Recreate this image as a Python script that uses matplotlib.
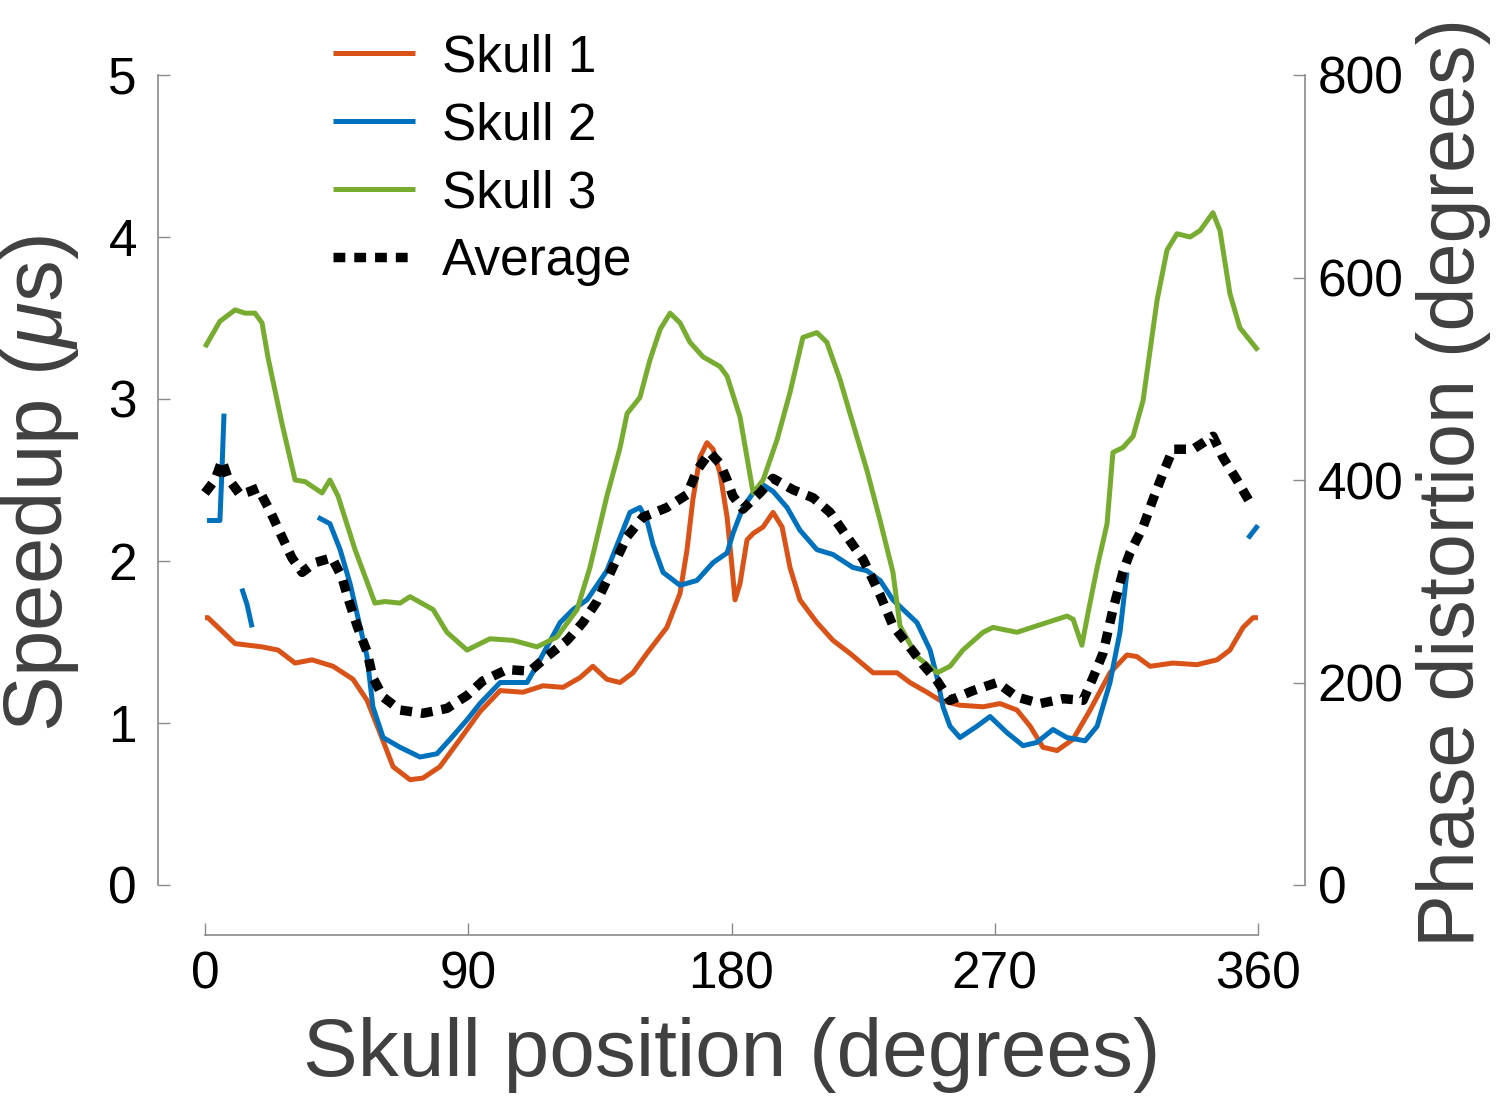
import numpy as np
import matplotlib
matplotlib.use("Agg")
import matplotlib.pyplot as plt

plt.rcParams['font.family'] = ['Liberation Sans', 'DejaVu Sans']
plt.rcParams['mathtext.fontset'] = 'custom'
plt.rcParams['mathtext.it'] = 'Liberation Sans:italic'
plt.rcParams['mathtext.rm'] = 'Liberation Sans'

# Skull 1 (orange)
pos1 = [0, 1.0, 10.3, 19.5, 25.0, 30.8, 36.6, 43.8, 50.6, 55.4, 59.8, 64.3, 70.1, 74.5, 80.3, 87.2,
        94.0, 100.9, 108.7, 115.6, 122.4, 128.2, 132.6, 137.4, 141.9, 146.3, 151.1, 157.9, 162.4,
        164.8, 166.8, 169.2, 171.6, 173.7, 176.1, 178.5, 180.2, 181.2, 182.9, 185.3, 187.4, 190.8,
        194.2, 197.3, 200.0, 203.4, 209.2, 214.7, 220.5, 228.4, 236.6, 241.0, 246.8, 251.3, 258.1,
        266.0, 271.8, 277.6, 282.1, 286.5, 291.3, 296.8, 302.6, 309.4, 315.2, 318.6, 323.1, 330.9,
        339.1, 346.0, 350.4, 354.9, 358.3, 360]
skull1 = [1.65, 1.65, 1.49, 1.47, 1.45, 1.37, 1.39, 1.35, 1.27, 1.14, 0.94, 0.73, 0.65, 0.66, 0.73, 0.90,
          1.07, 1.20, 1.19, 1.23, 1.22, 1.28, 1.35, 1.27, 1.25, 1.31, 1.43, 1.59, 1.80,
          2.07, 2.38, 2.64, 2.73, 2.69, 2.54, 2.27, 1.96, 1.76, 1.86, 2.13, 2.17, 2.21,
          2.30, 2.21, 1.96, 1.76, 1.62, 1.51, 1.43, 1.31, 1.31, 1.25, 1.19, 1.14, 1.11,
          1.10, 1.12, 1.08, 0.98, 0.85, 0.83, 0.90, 1.08, 1.31, 1.42, 1.41, 1.35, 1.37,
          1.36, 1.39, 1.45, 1.59, 1.65, 1.65]

# Skull 2 (blue), NaN marks the breaks in the trace
pos2 = [0.7, 5.1, 5.8, 6.5, 6.6,
        12.6, 14.4, 16.1, 16.2,
        38.6, 42.7, 46.2, 49.6, 52.3, 55.4, 57.4, 60.9, 66.7, 73.5, 79.3, 83.8, 89.6, 94.0, 100.9,
        110.1, 114.5, 121.4, 125.8, 130.6, 137.4, 145.3, 148.7, 151.1, 153.2, 156.6, 162.4, 168.2,
        173.7, 178.5, 180.5, 183.9, 187.4, 190.8, 194.2, 199.0, 203.4, 209.2, 214.7, 221.5, 226.3,
        230.8, 235.2, 243.4, 247.9, 250.3, 252.3, 254.7, 258.1, 263.9, 268.4, 274.2, 279.7, 284.4,
        289.9, 294.7, 300.9, 305.0, 309.4, 312.8, 315.2, 315.3,
        356.6, 360]
skull2 = [2.25, 2.25, 2.56, 2.91, np.nan,
          1.83, 1.73, 1.59, np.nan,
          2.27, 2.23, 2.07, 1.86, 1.65, 1.41, 1.10, 0.91, 0.85, 0.79, 0.81, 0.90, 1.02, 1.12, 1.25,
          1.25, 1.39, 1.62, 1.70, 1.76, 1.94, 2.30, 2.33, 2.25, 2.10, 1.93, 1.85, 1.88,
          1.99, 2.05, 2.17, 2.33, 2.42, 2.47, 2.43, 2.33, 2.19, 2.07, 2.04, 1.96, 1.94,
          1.88, 1.76, 1.62, 1.45, 1.28, 1.10, 0.98, 0.91, 0.98, 1.04, 0.94, 0.86, 0.88,
          0.96, 0.91, 0.89, 0.98, 1.25, 1.56, 1.93, np.nan,
          2.14, 2.22]

# Skull 3 (green)
pos3 = [0, 5.1, 10.3, 13.7, 17.1, 19.5, 21.5, 26.3, 30.8, 34.2, 40.0, 42.7, 45.5, 51.3, 58.1, 61.5,
        66.7, 70.1, 78.0, 82.7, 89.6, 97.4, 105.3, 113.5, 120.3, 127.2, 131.6, 137.4, 141.9, 144.3,
        148.7, 152.1, 155.6, 159.0, 162.4, 165.8, 170.3, 176.1, 178.5, 182.9, 187.4, 190.8, 195.6,
        200.0, 204.4, 209.2, 212.6, 217.1, 221.5, 226.3, 230.8, 235.2, 237.6, 243.4, 250.3, 254.7,
        259.1, 266.0, 269.4, 277.6, 284.4, 294.7, 296.8, 299.8, 301.9, 305.0, 308.4, 310.4, 313.8,
        317.3, 320.7, 325.5, 328.9, 332.3, 336.8, 340.2, 344.6, 347.0, 350.4, 353.8, 360]
skull3 = [3.32, 3.48, 3.55, 3.53, 3.53, 3.47, 3.26, 2.85, 2.50, 2.49, 2.42, 2.50, 2.40, 2.07, 1.74, 1.75,
          1.74, 1.78, 1.70, 1.56, 1.45, 1.52, 1.51, 1.47, 1.53, 1.70, 1.96, 2.40, 2.70, 2.91,
          3.01, 3.24, 3.43, 3.53, 3.47, 3.35, 3.26, 3.20, 3.14, 2.89, 2.42, 2.50, 2.75,
          3.04, 3.38, 3.41, 3.35, 3.12, 2.85, 2.56, 2.25, 1.93, 1.60, 1.41, 1.31, 1.35,
          1.45, 1.56, 1.59, 1.56, 1.60, 1.66, 1.64, 1.48, 1.68, 1.96, 2.23, 2.67, 2.70,
          2.77, 2.99, 3.61, 3.92, 4.02, 4.00, 4.04, 4.15, 4.04, 3.65, 3.44, 3.30]

# Average (black dotted), drawn in the left-axis scale
pos_avg = [0, 3.4, 5.8, 7.9, 12.0, 15.4, 18.1, 22.2, 26.3, 29.7, 33.2, 37.6, 43.4, 46.8, 48.9, 52.0,
           55.4, 57.4, 60.9, 66.7, 74.5, 82.7, 89.6, 95.0, 103.2, 111.1, 116.9, 123.8, 129.2, 134.0,
           137.4, 140.9, 144.3, 149.7, 157.9, 164.8, 168.2, 172.6, 176.1, 178.5, 180.5, 183.9, 189.7,
           194.2, 201.0, 207.9, 213.7, 219.5, 225.0, 230.8, 235.2, 240.0, 245.5, 250.3, 254.7, 262.6,
           270.8, 277.6, 285.5, 293.3, 300.2, 303.6, 307.0, 310.4, 313.8, 316.2, 320.7, 324.1, 327.5,
           330.9, 337.8, 344.6, 348.0, 352.8, 357.3]
average = [2.42, 2.50, 2.62, 2.51, 2.41, 2.43, 2.45, 2.31, 2.15, 2.02, 1.93, 1.99, 2.02, 1.90, 1.77, 1.60,
           1.44, 1.28, 1.16, 1.08, 1.06, 1.09, 1.17, 1.26, 1.33, 1.32, 1.41, 1.51, 1.62, 1.75,
           1.88, 2.02, 2.15, 2.27, 2.33, 2.41, 2.56, 2.67, 2.60, 2.50, 2.40, 2.32, 2.42,
           2.51, 2.44, 2.39, 2.30, 2.15, 2.01, 1.79, 1.60, 1.49, 1.36, 1.26, 1.14, 1.20,
           1.25, 1.16, 1.12, 1.15, 1.14, 1.28, 1.43, 1.70, 1.93, 2.05, 2.21, 2.38, 2.54,
           2.69, 2.69, 2.77, 2.64, 2.50, 2.36]

x_ticks = [0, 90, 180, 270, 360]
left_ticks = [0, 1, 2, 3, 4, 5]
right_ticks = [0, 200, 400, 600, 800]

W, H = 1500, 1098
fig = plt.figure(figsize=(W / 100, H / 100), dpi=100)
ax = fig.add_axes([205 / W, 1 - 885 / H, 1053 / W, 810 / H])
ax2 = ax.twinx()

c1, c2, c3 = '#D95319', '#0072BD', '#77AC30'
style = dict(lw=3.6, clip_on=False, solid_joinstyle='round', solid_capstyle='butt')
ax.plot(pos1, skull1, color=c1, label='Skull 1', **style)
ax.plot(pos2, skull2, color=c2, label='Skull 2', **style)
ax.plot(pos3, skull3, color=c3, label='Skull 3', **style)
ax.plot(pos_avg, average, color='black', lw=6.8, linestyle=(0, (1.25, 0.95)),
        label='Average', clip_on=False)

ax.set_xlim(0, 360)
ax.set_ylim(0, 5)
ax2.set_ylim(0, 800)

spine_c = '#8a8a8a'
for a in (ax, ax2):
    for s in a.spines.values():
        s.set_visible(False)
        s.set_color(spine_c)
        s.set_linewidth(1.2)
    a.patch.set_visible(False)

ax.spines['left'].set_visible(True)
ax.spines['left'].set_position(('outward', 34))
ax.spines['left'].set_bounds(0, 5)
ax.spines['bottom'].set_visible(True)
ax.spines['bottom'].set_position(('outward', 36))
ax.spines['bottom'].set_bounds(0, 360)
ax2.spines['right'].set_visible(True)
ax2.spines['right'].set_position(('outward', 34))
ax2.spines['right'].set_bounds(0, 800)

ax.set_xticks(x_ticks)
ax.set_yticks(left_ticks)
ax2.set_yticks(right_ticks)
ax.tick_params(axis='both', direction='in', length=8.5, width=1.0, color=spine_c,
               labelsize=37, labelcolor='black')
ax.tick_params(axis='x', pad=11)
ax.tick_params(axis='y', pad=15)
ax2.tick_params(axis='y', direction='in', length=8.5, width=1.0, color=spine_c,
                labelsize=37, labelcolor='black', pad=9)

lab_c = '#404040'
ax.set_xlabel('Skull position (degrees)', fontsize=59, color=lab_c, va='center')
ax.xaxis.set_label_coords(0.5, -0.21)
ax.set_ylabel(r'Speedup ($\mu$s)', fontsize=60, color=lab_c, va='center')
ax.yaxis.set_label_coords(-0.157, 0.496)
ax2.set_ylabel('Phase distortion (degrees)', fontsize=57, color=lab_c, va='center', rotation=90)
ax2.yaxis.set_label_coords(1.186, 0.497)

leg = ax.legend(loc='upper left', bbox_to_anchor=(333 / W, 1 - 33 / H),
                bbox_transform=fig.transFigure, frameon=False, fontsize=37,
                handlelength=1.6, handletextpad=0.52, labelspacing=0.37,
                borderpad=0, borderaxespad=0)

fig.savefig('out.png', dpi=100)
